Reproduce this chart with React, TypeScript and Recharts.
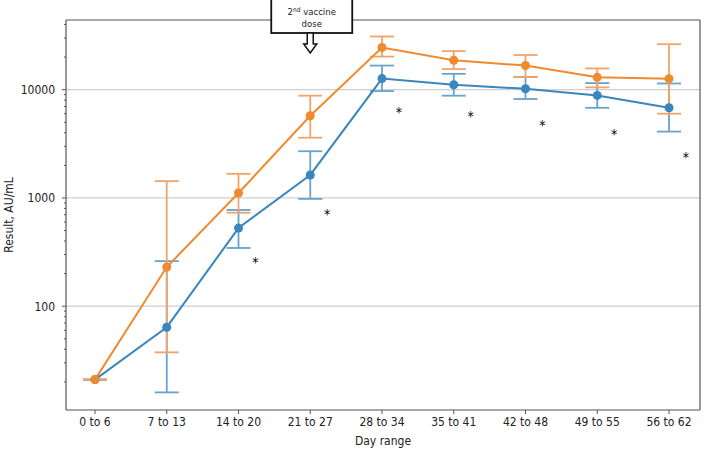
import * as React from 'react';
import { ComposedChart, Line, XAxis, YAxis, ErrorBar, ReferenceLine, ReferenceDot, Label } from 'recharts';

// Day ranges on the x axis
const categories = ['0 to 6', '7 to 13', '14 to 20', '21 to 27', '28 to 34', '35 to 41', '42 to 48', '49 to 55', '56 to 62'];

// Orange series: point value and error bar bounds
const orangeValues = [21, 230, 1110, 5740, 24500, 18700, 16700, 13000, 12600];
const orangeLow = [21, 37.5, 730, 3600, 20200, 15500, 13100, 10500, 6000];
const orangeHigh = [21, 1430, 1670, 8800, 31000, 22700, 20900, 15700, 26300];

// Blue series: point value and error bar bounds
const blueValues = [21, 64, 527, 1630, 12650, 11100, 10200, 8850, 6800];
const blueLow = [21, 16, 345, 980, 9700, 8800, 8200, 6800, 4100];
const blueHigh = [21, 261, 774, 2700, 16700, 14000, 13100, 11500, 11400];

// Where the significance asterisks sit (y value), null = none
const starValues = [null, null, 272, 758, 6670, 6120, 5060, 4170, 2550];

// Log axis ticks
const majorTicks = [100, 1000, 10000];
const minorTicks = [20, 30, 40, 50, 60, 70, 80, 90, 200, 300, 400, 500, 600, 700, 800, 900, 2000, 3000, 4000, 5000, 6000, 7000, 8000, 9000, 20000, 30000, 40000];
const yDomain = [11, 44000];

const annotationCategory = '21 to 27';

const ORANGE = '#f08a2e';
const ORANGE_ERR = '#f2a468';
const BLUE = '#3a86be';
const BLUE_ERR = '#68a3cc';
const FRAME = '#555555';
const FONT = '"DejaVu Sans Condensed", "DejaVu Sans", sans-serif';

function YTick(props: any) {
    const { x, y, payload } = props;
    const axisX = x + 10;
    const isMajor = majorTicks.includes(payload.value);
    return (
        <g>
            <line x1={axisX - (isMajor ? 4 : 2)} x2={axisX} y1={y} y2={y} stroke={FRAME} strokeWidth={1} />
            {isMajor && (
                <text x={axisX - 11} y={y} dy={4.5} textAnchor="end" fontSize={12} fill="#222" fontFamily={FONT}>
                    {payload.value}
                </text>
            )}
        </g>
    );
}

function StarDot(props: any) {
    const { cx, cy, payload } = props;
    if (payload?.star == null || cx == null || cy == null) return null;
    return (
        <text x={cx + 17} y={cy + 8} textAnchor="middle" fontSize={14} fill="#000" stroke="none" fontFamily={FONT}>
            *
        </text>
    );
}

// Callout box with hollow down-arrow marking the second dose
function DoseCallout(props: any) {
    const { cx, cy } = props;
    const left = cx - 39;
    const right = cx + 42;
    const top = cy - 22;
    const bottom = cy + 13;
    const mid = (left + right) / 2;
    const arrow = [
        [cx - 3, bottom],
        [cx - 3, bottom + 11],
        [cx - 6.5, bottom + 11],
        [cx, bottom + 20],
        [cx + 6.5, bottom + 11],
        [cx + 3, bottom + 11],
        [cx + 3, bottom],
    ]
        .map((p) => p.join(','))
        .join(' ');
    return (
        <g>
            <rect x={left} y={top} width={right - left} height={bottom - top} fill="#fff" stroke="#111" strokeWidth={1.8} />
            <polygon points={arrow} fill="#fff" stroke="#111" strokeWidth={1.5} />
            <text x={mid} y={cy - 5} textAnchor="middle" fontSize={9.5} fill="#222" fontFamily={FONT}>
                2<tspan fontSize={6.5} dy={-3}>nd</tspan>
                <tspan dy={3}> vaccine</tspan>
            </text>
            <text x={mid} y={cy + 7} textAnchor="middle" fontSize={9.5} fill="#222" fontFamily={FONT}>
                dose
            </text>
        </g>
    );
}

export default function App() {
    const data = React.useMemo(
        () =>
            categories.map((cat, i) => ({
                day: cat,
                orange: orangeValues[i],
                orangeErr: [orangeValues[i] - orangeLow[i], orangeHigh[i] - orangeValues[i]],
                blue: blueValues[i],
                blueErr: [blueValues[i] - blueLow[i], blueHigh[i] - blueValues[i]],
                star: starValues[i],
            })),
        [],
    );

    return (
        <div style={{ position: 'absolute', left: 0, top: 0, width: 708, height: 451, background: '#fff' }}>
            <ComposedChart width={708} height={451} data={data} margin={{ top: 19, right: 7, left: 0, bottom: 0 }}>
                {/* frame: top and right borders (1px axes, since 0-size axes are skipped) */}
                <XAxis xAxisId="top" orientation="top" dataKey="day" height={1} tick={false} tickLine={false} axisLine={{ stroke: FRAME, strokeWidth: 1.2 }} scale="point" padding={{ left: 29, right: 31 }} />
                <YAxis yAxisId="right" orientation="right" width={1} tick={false} tickLine={false} axisLine={{ stroke: FRAME, strokeWidth: 1.2 }} type="number" domain={[0, 1]} />

                <XAxis
                    dataKey="day"
                    scale="point"
                    padding={{ left: 29, right: 31 }}
                    height={41}
                    tickSize={4}
                    tickMargin={3}
                    interval={0}
                    tickLine={{ stroke: FRAME }}
                    axisLine={{ stroke: FRAME, strokeWidth: 1.2 }}
                    tick={{ fontSize: 12, fill: '#222', fontFamily: FONT }}
                >
                    <Label
                        content={(p: any) => {
                            const vb = p.viewBox;
                            return (
                                <text x={vb.x + vb.width / 2} y={445} textAnchor="middle" fontSize={12} fill="#222" fontFamily={FONT}>
                                    Day range
                                </text>
                            );
                        }}
                    />
                </XAxis>
                <YAxis
                    type="number"
                    scale="log"
                    domain={yDomain}
                    allowDataOverflow
                    ticks={[...minorTicks, ...majorTicks].sort((a, b) => a - b)}
                    interval={0}
                    width={66}
                    tickSize={4}
                    tickMargin={6}
                    tickLine={false}
                    axisLine={{ stroke: FRAME, strokeWidth: 1.2 }}
                    tick={<YTick />}
                >
                    <Label
                        content={(p: any) => {
                            const vb = p.viewBox;
                            const cy = vb.y + vb.height / 2;
                            return (
                                <text x={13} y={cy} transform={`rotate(-90 13 ${cy})`} textAnchor="middle" fontSize={12} fill="#222" fontFamily={FONT}>
                                    Result, AU/mL
                                </text>
                            );
                        }}
                    />
                </YAxis>

                {majorTicks.map((t) => (
                    <ReferenceLine key={t} y={t} stroke="#cfcfcf" strokeWidth={1.3} />
                ))}

                <Line
                    dataKey="blue"
                    stroke={BLUE}
                    strokeWidth={2}
                    dot={{ r: 4.5, fill: BLUE, stroke: BLUE, strokeWidth: 0 }}
                    activeDot={false}
                    isAnimationActive={false}
                >
                    <ErrorBar dataKey="blueErr" direction="y" width={12} stroke={BLUE_ERR} strokeWidth={1.8} />
                </Line>
                <Line
                    dataKey="orange"
                    stroke={ORANGE}
                    strokeWidth={2}
                    dot={{ r: 4.5, fill: ORANGE, stroke: ORANGE, strokeWidth: 0 }}
                    activeDot={false}
                    isAnimationActive={false}
                >
                    <ErrorBar dataKey="orangeErr" direction="y" width={12} stroke={ORANGE_ERR} strokeWidth={1.8} />
                </Line>

                <Line dataKey="star" stroke="none" dot={<StarDot />} activeDot={false} isAnimationActive={false} legendType="none" />

                <ReferenceDot x={annotationCategory} y={yDomain[1]} r={0} ifOverflow="visible" shape={<DoseCallout />} />
            </ComposedChart>
        </div>
    );
}
